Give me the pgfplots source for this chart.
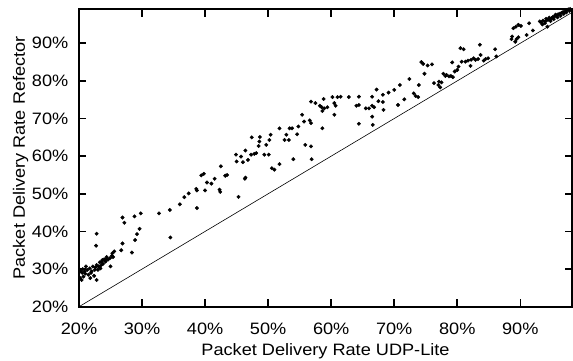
\documentclass[border=0pt]{standalone}
\usepackage{fontspec}
\setmainfont{Liberation Sans}[FakeStretch=1.1]
\usepackage{pgfplots}
\pgfplotsset{compat=1.18}

\begin{document}
\fontsize{16.5bp}{19bp}\selectfont
\begin{tikzpicture}
\begin{axis}[
  scale only axis,
  width=493bp, height=297.7bp,
  xmin=20, xmax=98.2, ymin=20, ymax=99.1,
  axis line style={line width=1.8bp},
  every tick/.style={black, line width=1.6bp},
  major tick length=7.5bp,
  tick align=inside,
  xtick={20,30,...,90}, ytick={20,30,...,90},
  xticklabels={20\%,30\%,40\%,50\%,60\%,70\%,80\%,90\%},
  yticklabels={20\%,30\%,40\%,50\%,60\%,70\%,80\%,90\%},
  xticklabel style={inner sep=0pt, anchor=north, yshift=-16bp},
  yticklabel style={inner sep=0pt, anchor=east, xshift=-10.5bp},
  xlabel={Packet Delivery Rate UDP-Lite},
  ylabel={Packet Delivery Rate Refector},
  xlabel style={at={(axis description cs:0.5,0)}, anchor=base, inner sep=0pt, yshift=-48.3bp},
  ylabel style={at={(axis description cs:0,0.5)}, anchor=base, inner sep=0pt, yshift=54bp},
  clip=true,
]
% reference line: equal delivery rate
\addplot[black, line width=0.6bp, no marks] coordinates {(20,20) (99.1,99.1)};
% measured delivery rates
\addplot[only marks, mark=*, mark size=1.75bp, black] table {
x y
20.2 29.4
20.3 29.8
20.6 30.0
20.2 27.6
20.4 27.1
20.7 28.0
20.9 29.4
21.1 30.7
21.3 29.8
21.5 28.5
21.7 30.2
21.8 27.6
22.0 29.4
22.2 30.7
22.4 28.2
22.5 29.8
22.8 31.1
23.0 29.8
23.1 30.7
23.3 31.8
23.4 30.2
23.6 32.0
23.8 31.4
24.0 32.6
24.2 32.0
24.4 33.2
24.6 32.5
24.9 32.9
25.0 30.7
25.2 33.5
25.3 34.2
25.4 33.2
25.6 34.7
24.3 32.6
23.7 32.4
21.0 28.8
21.9 29.0
22.6 30.4
23.5 31.0
20.5 29.0
22.8 39.4
22.7 36.2
22.8 27.1
26.7 35.0
26.9 36.8
26.9 43.7
27.2 42.3
28.4 34.4
28.8 44.0
28.9 37.7
29.2 39.3
29.6 40.7
29.8 44.8
32.7 44.8
34.4 45.7
34.5 38.4
36.0 47.2
36.7 49.1
37.4 50.1
38.6 51.3
38.7 50.9
38.7 46.2
39.4 54.9
39.8 55.3
40.0 50.9
40.3 53.0
41.0 52.7
41.5 54.0
42.3 51.1
42.4 50.5
42.5 57.3
43.2 54.8
43.5 55.0
45.3 49.2
46.3 54.0
46.4 54.3
44.9 60.4
45.7 59.9
45.0 58.6
46.8 59.0
46.0 58.4
46.4 61.5
47.4 65.0
47.3 60.4
47.8 60.6
48.1 60.8
48.5 62.7
48.7 65.1
48.6 63.9
49.4 60.4
50.1 60.4
49.7 63.0
50.2 64.3
50.4 65.7
50.6 56.8
51.0 56.4
51.8 57.9
51.8 67.4
52.9 65.7
52.6 64.3
53.3 64.3
53.4 67.4
53.8 67.4
54.0 59.2
54.6 65.8
54.8 67.9
56.9 59.2
55.7 69.2
55.4 71.0
55.9 63.0
56.8 62.6
56.6 69.5
56.8 68.8
56.8 74.5
57.5 74.1
58.2 73.4
58.5 73.0
58.9 72.7
58.6 72.0
58.8 75.2
58.6 67.4
59.4 73.0
60.2 75.7
60.5 74.1
60.5 71.0
60.7 73.4
61.0 75.7
61.5 75.8
62.8 75.7
64.0 73.4
64.4 73.6
64.4 75.8
64.4 68.6
65.5 72.7
66.0 72.7
66.5 73.4
66.8 73.0
66.5 75.8
66.5 70.5
66.6 68.3
67.2 77.7
67.5 74.6
68.2 74.4
68.2 76.3
68.3 72.3
69.1 76.9
70.0 77.6
70.6 73.6
70.9 78.9
71.6 75.1
72.4 80.5
73.1 76.7
73.4 76.0
73.8 75.7
73.9 78.9
74.3 85.0
74.6 84.5
75.3 84.1
74.8 81.9
76.0 84.4
76.3 79.4
77.0 78.9
77.1 79.8
77.3 78.3
77.5 79.6
77.8 81.9
78.1 81.3
78.3 81.6
78.7 81.2
79.0 81.3
79.3 81.0
79.2 84.9
79.6 82.5
80.0 82.9
80.2 83.8
80.5 88.7
81.0 88.4
80.7 85.1
81.3 85.1
81.7 85.4
82.1 84.0
82.2 85.6
82.6 86.0
82.9 85.6
83.3 85.8
83.6 89.6
83.7 86.9
84.2 85.4
84.5 85.8
84.9 86.0
86.0 88.4
86.2 86.5
88.6 91.1
88.7 91.8
88.9 94.0
89.3 94.4
89.2 90.4
89.4 91.1
89.7 91.6
89.7 94.9
90.1 94.6
91.0 92.2
91.4 95.3
92.0 93.4
93.1 95.8
93.3 95.5
93.6 96.0
93.9 95.3
94.3 94.4
94.4 96.2
94.7 96.4
95.0 96.7
95.2 97.0
95.5 97.2
95.8 97.4
96.0 97.7
96.3 97.9
96.6 98.1
96.8 98.3
97.1 98.5
97.4 98.8
97.6 99.0
97.9 99.1
94.0 95.8
94.8 95.9
95.3 96.4
95.9 96.9
96.4 97.3
96.9 97.8
97.3 98.2
97.8 98.6
94.6 96.8
95.6 97.6
93.5 95.0
94.1 96.5
};
\coordinate (sw) at (rel axis cs:0,0);
\coordinate (ne) at (rel axis cs:1,1);
\end{axis}
\pgfresetboundingbox
\useasboundingbox ([shift={(-79bp,-53.3bp)}]sw) rectangle ([shift={(1bp,9bp)}]ne);
\end{tikzpicture}
\end{document}
